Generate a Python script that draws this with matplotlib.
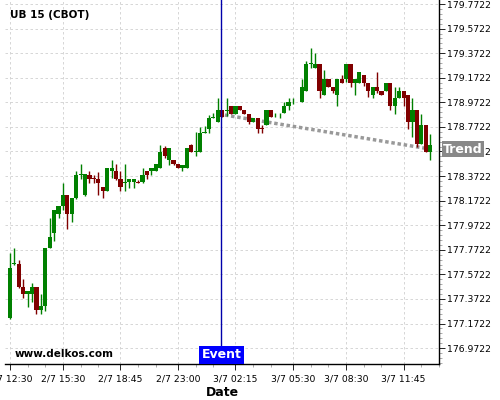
import matplotlib
matplotlib.use("Agg")
import matplotlib.pyplot as plt
from matplotlib.ticker import FixedLocator, AutoMinorLocator, FormatStrFormatter

# candle data (15 min bars), index based x axis
opens = [177.220, 177.657, 177.657, 177.469, 177.415, 177.415, 177.469, 177.285, 177.317, 177.787,
         177.911, 178.066, 178.128, 178.218, 178.066, 178.196, 178.381, 178.218, 178.381, 178.359,
         178.348, 178.283, 178.253, 178.416, 178.413, 178.348, 178.318, 178.321, 178.321, 178.321,
         178.321, 178.413, 178.413, 178.413, 178.438, 178.600, 178.503, 178.503, 178.470, 178.440,
         178.440, 178.625, 178.570, 178.570, 178.725, 178.757, 178.847, 178.814, 178.910, 178.904,
         178.942, 178.879, 178.942, 178.910, 178.879, 178.814, 178.847, 178.763, 178.787, 178.910,
         178.885, 178.885, 178.883, 178.942, 178.980, 178.980, 178.975, 179.067, 179.286, 179.254,
         179.284, 179.032, 179.159, 179.099, 179.032, 179.159, 179.162, 179.284, 179.132, 179.132,
         179.194, 179.132, 179.034, 179.099, 179.067, 179.067, 179.132, 178.945, 179.007, 179.067,
         179.034, 178.814, 178.910, 178.631, 178.787, 178.570]
highs = [177.748, 177.784, 177.689, 177.535, 177.437, 177.500, 177.469, 177.410, 177.787, 178.028,
         178.096, 178.128, 178.313, 178.218, 178.194, 178.413, 178.468, 178.389, 178.416, 178.381,
         178.408, 178.283, 178.438, 178.500, 178.468, 178.416, 178.468, 178.346, 178.346, 178.340,
         178.435, 178.413, 178.438, 178.470, 178.625, 178.617, 178.600, 178.503, 178.470, 178.462,
         178.598, 178.633, 178.728, 178.774, 178.782, 178.869, 178.883, 179.005, 178.910, 179.005,
         178.942, 178.942, 178.942, 178.910, 178.879, 178.847, 178.847, 178.787, 178.910, 178.910,
         178.888, 178.888, 178.975, 179.005, 179.005, 178.983, 179.159, 179.311, 179.412, 179.376,
         179.284, 179.235, 179.159, 179.099, 179.159, 179.194, 179.284, 179.284, 179.162, 179.221,
         179.194, 179.132, 179.099, 179.216, 179.067, 179.132, 179.132, 179.099, 179.099, 179.067,
         179.034, 179.005, 178.910, 178.877, 178.787, 178.714]
lows = [177.209, 177.648, 177.464, 177.380, 177.309, 177.345, 177.247, 177.247, 177.277, 177.787,
        177.844, 178.028, 178.096, 177.939, 178.001, 178.188, 178.346, 178.214, 178.313, 178.313,
        178.218, 178.191, 178.253, 178.354, 178.340, 178.250, 178.250, 178.277, 178.277, 178.313,
        178.313, 178.346, 178.381, 178.413, 178.438, 178.519, 178.462, 178.462, 178.435, 178.416,
        178.440, 178.570, 178.535, 178.570, 178.720, 178.720, 178.847, 178.814, 178.850, 178.863,
        178.879, 178.879, 178.910, 178.879, 178.793, 178.814, 178.720, 178.720, 178.787, 178.850,
        178.853, 178.842, 178.883, 178.910, 178.958, 178.980, 178.975, 179.067, 179.254, 179.254,
        179.005, 179.032, 179.099, 179.046, 178.942, 179.132, 179.137, 179.099, 179.032, 179.132,
        179.105, 179.018, 179.005, 179.048, 179.034, 179.067, 178.910, 178.877, 179.007, 178.945,
        178.753, 178.692, 178.606, 178.631, 178.570, 178.503]
closes = [177.626, 177.665, 177.469, 177.415, 177.437, 177.469, 177.285, 177.317, 177.787, 177.876,
          178.096, 178.128, 178.218, 178.066, 178.194, 178.381, 178.386, 178.389, 178.351, 178.351,
          178.318, 178.253, 178.438, 178.438, 178.348, 178.285, 178.321, 178.346, 178.346, 178.313,
          178.381, 178.381, 178.438, 178.470, 178.568, 178.535, 178.600, 178.470, 178.440, 178.462,
          178.598, 178.570, 178.578, 178.725, 178.733, 178.845, 178.850, 178.910, 178.850, 178.908,
          178.879, 178.942, 178.910, 178.879, 178.814, 178.847, 178.757, 178.757, 178.910, 178.850,
          178.888, 178.888, 178.942, 178.975, 178.983, 178.983, 179.094, 179.284, 179.290, 179.284,
          179.067, 179.159, 179.099, 179.067, 179.159, 179.132, 179.284, 179.132, 179.162, 179.221,
          179.132, 179.067, 179.099, 179.067, 179.034, 179.132, 178.945, 179.007, 179.067, 179.007,
          178.814, 178.910, 178.631, 178.787, 178.570, 178.625]

tick_pos = [0, 12, 25, 38, 51, 64, 76, 89]
tick_labels = ['2/7 12:30', '2/7 15:30', '2/7 18:45', '2/7 23:00',
               '3/7 02:15', '3/7 05:30', '3/7 08:30', '3/7 11:45']
y_ticks = [176.9722, 177.1722, 177.3722, 177.5722, 177.7722, 177.9722, 178.1722,
           178.3722, 178.5722, 178.7722, 178.9722, 179.1722, 179.3722, 179.5722, 179.7722]

event_x = 47.8
trend_x = [48.6, 95]
trend_y = [178.869, 178.592]

green = '#008000'
red = '#800000'

fig = plt.figure(figsize=(5, 4), dpi=100)
ax = fig.add_axes([0.01, 0.09, 0.868, 0.91])

xs = list(range(len(opens)))
cols = [green if c >= o else red for o, c in zip(opens, closes)]
bottoms = [min(o, c) for o, c in zip(opens, closes)]
heights = [max(abs(c - o), 0.004) for o, c in zip(opens, closes)]

ax.vlines(xs, lows, highs, colors=cols, linewidth=1, zorder=3)
ax.bar(xs, heights, bottom=bottoms, width=0.95, color=cols, linewidth=0, zorder=4)

# trend line
ax.plot(trend_x, trend_y, linestyle=(0, (1, 0.8)), color='#999999', linewidth=2.5, zorder=2)

# event line
ax.axvline(event_x, color='#0000aa', linewidth=1, zorder=5)

ax.set_xlim(-1.1, 96.3)
ax.set_ylim(176.843, 179.805)

ax.yaxis.tick_right()
ax.yaxis.set_major_locator(FixedLocator(y_ticks))
ax.yaxis.set_major_formatter(FormatStrFormatter('%.4f'))
ax.yaxis.set_minor_locator(AutoMinorLocator(5))
ax.set_xticks(tick_pos)
ax.set_xticklabels(tick_labels)
ax.set_xticks([p + k for p in tick_pos for k in (4, 8)], minor=True)
ax.tick_params(axis='both', labelsize=6.7, colors='black', length=4, width=0.6)
ax.tick_params(which='minor', length=2, width=0.5, colors='#888888')
ax.tick_params(axis='y', pad=2)

ax.grid(True, which='major', color='#d0d0d0', linestyle=(0, (3, 3)), linewidth=0.6)
ax.set_axisbelow(True)
for s in ['left', 'top']:
    ax.spines[s].set_visible(False)
ax.spines['right'].set_linewidth(1)
ax.spines['bottom'].set_linewidth(1)

ax.set_xlabel('Date', fontsize=9, fontweight='bold', labelpad=2)

ax.text(0.012, 0.96, 'UB 15 (CBOT)', transform=ax.transAxes, fontsize=7.5,
        fontweight='bold', va='center', ha='left')
ax.text(0.023, 0.028, 'www.delkos.com', transform=ax.transAxes, fontsize=7.5,
        fontweight='bold', va='center', ha='left')

ax.text(event_x, 0.025, 'Event', transform=ax.get_xaxis_transform(), fontsize=9,
        fontweight='bold', color='white', ha='center', va='center', zorder=6,
        bbox=dict(boxstyle='square,pad=0.2', facecolor='#0000ff', edgecolor='none'))

ax.annotate('Trend', xy=(1.0, trend_y[-1]), xycoords=('axes fraction', 'data'),
            xytext=(3, 0), textcoords='offset points', fontsize=9, fontweight='bold',
            color='white', ha='left', va='center', annotation_clip=False, zorder=10,
            bbox=dict(boxstyle='square,pad=0.12', facecolor='#888888', edgecolor='none'))

fig.savefig('out.png', dpi=100)
